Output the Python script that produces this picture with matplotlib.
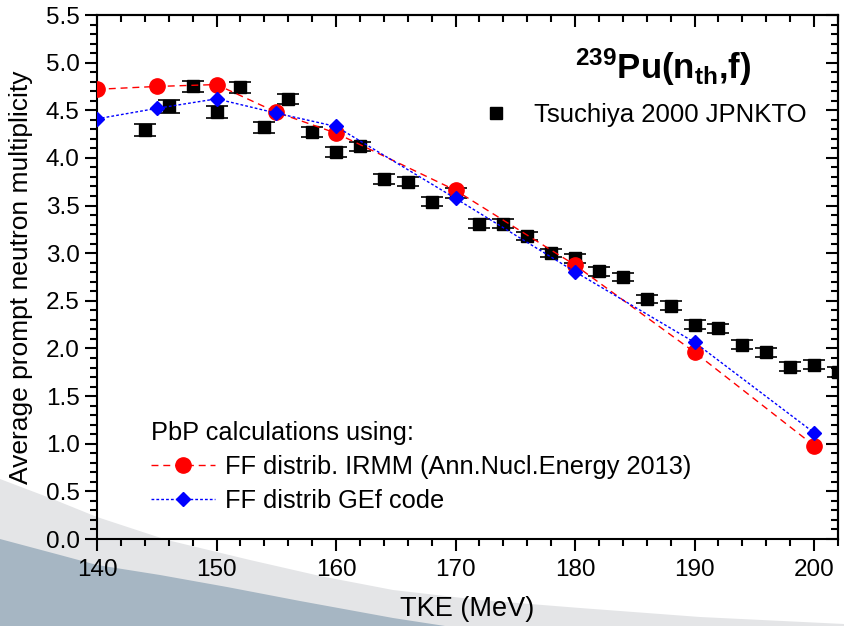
import numpy as np
import matplotlib
matplotlib.use("Agg")
import matplotlib.pyplot as plt
from matplotlib.lines import Line2D
from matplotlib.patches import Polygon
from matplotlib.ticker import MultipleLocator, FormatStrFormatter

plt.rcParams['font.family'] = ['Liberation Sans', 'DejaVu Sans']
plt.rcParams['mathtext.fontset'] = 'custom'
plt.rcParams['mathtext.rm'] = 'Liberation Sans'
plt.rcParams['mathtext.bf'] = 'Liberation Sans:bold'

# Tsuchiya 2000 JPNKTO (experimental points)
tke_exp = [144, 146, 148, 150, 152, 154, 156, 158, 160, 162, 164, 166, 168, 170, 172,
           174, 176, 178, 180, 182, 184, 186, 188, 190, 192, 194, 196, 198, 200, 202]
nu_exp = [4.29, 4.54, 4.75, 4.48, 4.74, 4.32, 4.62, 4.27, 4.06, 4.12, 3.78, 3.75, 3.54, 3.63, 3.31,
          3.31, 3.18, 3.00, 2.945, 2.81, 2.75, 2.52, 2.45, 2.25, 2.21, 2.04, 1.96, 1.81, 1.83, 1.755]
nu_err = [0.065, 0.065, 0.06, 0.06, 0.06, 0.055, 0.055, 0.055, 0.05, 0.05, 0.05, 0.05, 0.05, 0.05, 0.05,
          0.05, 0.045, 0.045, 0.045, 0.045, 0.045, 0.045, 0.045, 0.045, 0.045, 0.045, 0.045, 0.05, 0.05, 0.05]

# PbP calculations
tke_calc = [140, 145, 150, 155, 160, 170, 180, 190, 200]
nu_irmm = [4.72, 4.75, 4.77, 4.48, 4.26, 3.66, 2.875, 1.96, 0.98]
nu_gef = [4.41, 4.52, 4.62, 4.47, 4.33, 3.575, 2.805, 2.064, 1.115]

W, H = 844, 626
fig = plt.figure(figsize=(W / 100, H / 100), dpi=100)

# slide background swoosh (pixel coords, y from top)
light_edge = [(0, 479), (50, 498), (97, 517), (167, 540), (250, 560), (320, 576),
              (393, 590), (480, 600), (580, 608), (700, 617), (844, 624)]
dark_edge = [(0, 539), (60, 555), (97, 565), (160, 575), (227, 587), (300, 601),
             (393, 618), (445, 626)]


def to_fig(pts):
    return [(x / W, 1 - y / H) for x, y in pts]


light_poly = to_fig(light_edge + [(844, 626), (0, 626)])
dark_poly = to_fig(dark_edge + [(0, 626)])
fig.patches.append(Polygon(light_poly, closed=True, transform=fig.transFigure,
                           facecolor='#e4e5e7', edgecolor='none', zorder=-2))
fig.patches.append(Polygon(dark_poly, closed=True, transform=fig.transFigure,
                           facecolor='#a6b6c3', edgecolor='none', zorder=-1))

ax = fig.add_axes([97 / W, 1 - 539 / H, 741 / W, 524 / H])
ax.set_facecolor('none')
ax.set_zorder(1)

ax.errorbar(tke_exp, nu_exp, yerr=nu_err, fmt='s', color='black', ms=9,
            capsize=8, elinewidth=1.2, capthick=1.2, zorder=3)
ax.plot(tke_calc, nu_irmm, color='red', lw=1, dashes=(5, 3.5), marker='o', ms=11,
        zorder=4)
ax.plot(tke_calc, nu_gef, color='blue', lw=1, dashes=(2, 1.5), marker='D', ms=7,
        zorder=5)

ax.set_xlim(140, 202)
ax.set_ylim(0, 5.5)
ax.xaxis.set_major_locator(MultipleLocator(10))
ax.xaxis.set_minor_locator(MultipleLocator(2))
ax.yaxis.set_major_locator(MultipleLocator(0.5))
ax.yaxis.set_minor_locator(MultipleLocator(0.1))
ax.yaxis.set_major_formatter(FormatStrFormatter('%.1f'))

for s in ax.spines.values():
    s.set_linewidth(1.5)
ax.tick_params(which='both', direction='out', width=1.5, labelsize=17.5, pad=4,
               top=False, right=False)
ax.tick_params(axis='x', which='major', pad=6)
ax.tick_params(which='major', length=8.5)
ax.tick_params(which='minor', length=5)

# inward ticks on top and right
for side in ('top', 'right'):
    sec = ax.secondary_xaxis('top') if side == 'top' else ax.secondary_yaxis('right')
    axis = sec.xaxis if side == 'top' else sec.yaxis
    axis.set_major_locator(MultipleLocator(10 if side == 'top' else 0.5))
    axis.set_minor_locator(MultipleLocator(2 if side == 'top' else 0.1))
    sec.tick_params(which='both', direction='in', width=1.5, labelleft=False,
                    labelright=False, labeltop=False, labelbottom=False)
    sec.tick_params(which='major', length=8.5)
    sec.tick_params(which='minor', length=5)
    sec.spines[side].set_linewidth(1.5)

ax.set_xlabel('TKE (MeV)', fontsize=19.5, labelpad=11)
ax.set_ylabel('Average prompt neutron multiplicity', fontsize=19, labelpad=9)

ax.text(0.764, 0.90, r'$\mathbf{{}^{239}Pu(n_{th}{,}f)}$', transform=ax.transAxes,
        ha='center', va='center', fontsize=25)

exp_handle = Line2D([], [], marker='s', color='black', ls='none', ms=9)
leg2 = ax.legend([exp_handle], ['Tsuchiya 2000 JPNKTO'], loc='center left',
                 bbox_to_anchor=((481 - 97) / 741, (539 - 115) / 524), frameon=False,
                 fontsize=18.5, handlelength=1.2, handletextpad=0.85, borderpad=0,
                 borderaxespad=0)
ax.add_artist(leg2)

irmm_handle = Line2D([], [], color='red', lw=1, dashes=(5, 3.5), marker='o', ms=11)
gef_handle = Line2D([], [], color='blue', lw=1, dashes=(2, 1.5), marker='D', ms=7)
ax.legend([irmm_handle, gef_handle],
          ['FF distrib. IRMM (Ann.Nucl.Energy 2013)', 'FF distrib GEf code'],
          title='PbP calculations using:', title_fontsize=18.3, alignment='left',
          loc='upper left', bbox_to_anchor=((151 - 97) / 741, (539 - 421) / 524),
          frameon=False, fontsize=18.3, handlelength=2.5, handletextpad=0.4,
          labelspacing=0.4, borderpad=0, borderaxespad=0)

fig.savefig('out.png', dpi=100)
